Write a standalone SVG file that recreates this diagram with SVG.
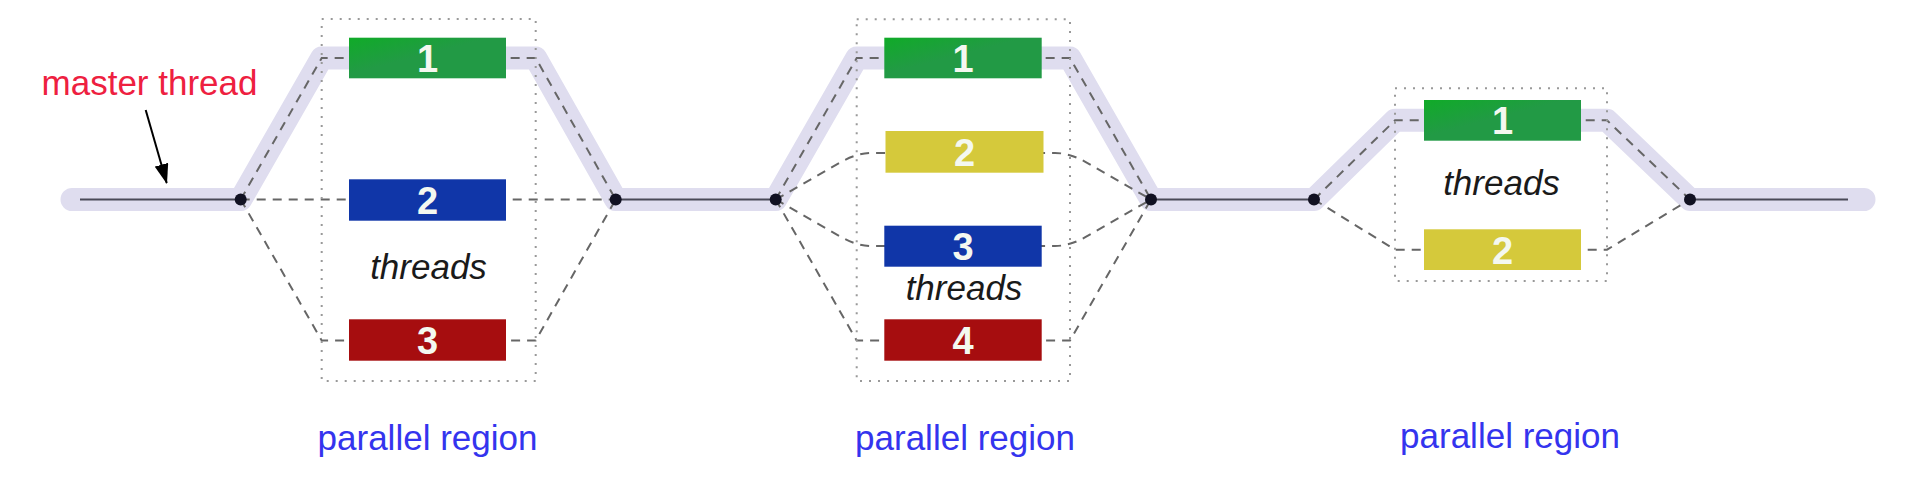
<svg xmlns="http://www.w3.org/2000/svg" width="1912" height="491" viewBox="0 0 1912 491">
<style>
.halo{fill:none;stroke:#dfddef;stroke-width:23;stroke-linecap:round;stroke-linejoin:round}
.core{fill:none;stroke:#4a4a58;stroke-width:2}
.dash{fill:none;stroke:#666;stroke-width:2;stroke-dasharray:9,7}
.region{fill:none;stroke:#999;stroke-width:2;stroke-dasharray:2,7}
.dot{fill:#111122}
.num{font-family:"Liberation Sans",Arial,sans-serif;font-size:38px;font-weight:bold;fill:#f4f8f0;text-anchor:middle}
.thr{font-family:"Liberation Sans",Arial,sans-serif;font-size:35px;font-style:italic;fill:#1a1a1a;text-anchor:middle}
.lbl{font-family:"Liberation Sans",Arial,sans-serif;font-size:35px;fill:#3434ee;text-anchor:middle}
.green{fill:url(#gg)}
.blue{fill:#1036a8}
.red{fill:#a60d0f}
.yellow{fill:#d5c93b}
</style>
<defs>
<linearGradient id="gg" x1="0" y1="0" x2="1" y2="1">
<stop offset="0" stop-color="#10ab28"/>
<stop offset="0.45" stop-color="#229a45"/>
<stop offset="1" stop-color="#229a45"/>
</linearGradient>
<marker id="ah" viewBox="0 0 10 10" refX="9" refY="5" markerWidth="10" markerHeight="10" markerUnits="userSpaceOnUse" orient="auto">
<path d="M0,0 L10,5 L0,10 z" fill="#000"/>
</marker>
<marker id="ahb" viewBox="0 0 20 14" refX="19" refY="7" markerWidth="20" markerHeight="14" markerUnits="userSpaceOnUse" orient="auto">
<path d="M0,0 L20,7 L0,14 z" fill="#000"/>
</marker>
</defs>

<g id="connectors">
<path class="halo" d="M72,199.5 L240.7,199.5 L321.7,58 L535.7,58 L615.7,199.5 L775.7,199.5 L856.7,58 L1070,58 L1151,199.5 L1314,199.5 L1395,120.3 L1607,120.3 L1690,199.5 L1864,199.5"/>
<path class="core" d="M80,199.5 H240.7 M615.7,199.5 H775.7 M1151,199.5 H1314 M1690,199.5 H1848"/>
<path class="dash" d="M240.7,199.5 L321.7,58 L535.7,58 L615.7,199.5"/>
<path class="dash" d="M240.7,199.5 L615.7,199.5"/>
<path class="dash" d="M240.7,199.5 L321.7,340.5 L535.7,340.5 L615.7,199.5"/>
<path class="dash" d="M775.7,199.5 L856.7,58 L1070,58 L1151,199.5"/>
<path class="dash" d="M775.7,199.5 L840.5,162.3 Q856.7,153 872,153 L1055,153 Q1070,153 1086.2,162.3 L1151,199.5"/>
<path class="dash" d="M775.7,199.5 L840.5,236.7 Q856.7,246 872,246 L1055,246 Q1070,246 1086.2,236.7 L1151,199.5"/>
<path class="dash" d="M775.7,199.5 L856.7,340.5 L1070,340.5 L1151,199.5"/>
<path class="dash" d="M1314,199.5 L1395,120.3 L1607,120.3 L1690,199.5"/>
<path class="dash" d="M1314,199.5 L1395,249.7 L1607,249.7 L1690,199.5"/>
<line x1="145.7" y1="110" x2="166.7" y2="183" stroke="#000" stroke-width="2" marker-end="url(#ahb)"/>
</g>

<g id="forks">
<circle class="dot" cx="240.7" cy="199.5" r="6"/>
<circle class="dot" cx="615.7" cy="199.5" r="6"/>
<circle class="dot" cx="775.7" cy="199.5" r="6"/>
<circle class="dot" cx="1151" cy="199.5" r="6"/>
<circle class="dot" cx="1314" cy="199.5" r="6"/>
<circle class="dot" cx="1690" cy="199.5" r="6"/>
</g>

<g id="master-label">
<text x="149.5" y="95" font-family="'Liberation Sans',Arial,sans-serif" font-size="35" fill="#ee2040" text-anchor="middle">master thread</text>
</g>

<g id="region1">
<rect class="region" x="321.7" y="19" width="214" height="362"/>
<g id="r1-t1"><rect class="green" x="349" y="37.7" width="157" height="40.6"/><text class="num" x="427.5" y="71.5">1</text></g>
<g id="r1-t2"><rect class="blue" x="349" y="179.3" width="157" height="41.4"/><text class="num" x="427.5" y="213.5">2</text></g>
<text class="thr" x="428.5" y="279">threads</text>
<g id="r1-t3"><rect class="red" x="349" y="319.3" width="157" height="41.4"/><text class="num" x="427.5" y="353.5">3</text></g>
<text class="lbl" x="427.5" y="450">parallel region</text>
</g>

<g id="region2">
<rect class="region" x="856.7" y="19.3" width="213.3" height="361.7"/>
<g id="r2-t1"><rect class="green" x="884.3" y="37.7" width="157.4" height="40.6"/><text class="num" x="963" y="71.5">1</text></g>
<g id="r2-t2"><rect class="yellow" x="885.5" y="131" width="158" height="41.7"/><text class="num" x="964.5" y="165.5">2</text></g>
<g id="r2-t3"><rect class="blue" x="884.3" y="225.7" width="157.4" height="41"/><text class="num" x="963" y="259.5">3</text></g>
<text class="thr" x="964" y="300">threads</text>
<g id="r2-t4"><rect class="red" x="884.3" y="319.3" width="157.4" height="41.4"/><text class="num" x="963" y="353.5">4</text></g>
<text class="lbl" x="965" y="450">parallel region</text>
</g>

<g id="region3">
<rect class="region" x="1395" y="88.3" width="212" height="192.7"/>
<g id="r3-t1"><rect class="green" x="1424" y="100" width="157" height="40.7"/><text class="num" x="1502.5" y="134">1</text></g>
<text class="thr" x="1501.5" y="195">threads</text>
<g id="r3-t2"><rect class="yellow" x="1424" y="229.3" width="157" height="40.7"/><text class="num" x="1502.5" y="263.5">2</text></g>
<text class="lbl" x="1510" y="448">parallel region</text>
</g>
</svg>
